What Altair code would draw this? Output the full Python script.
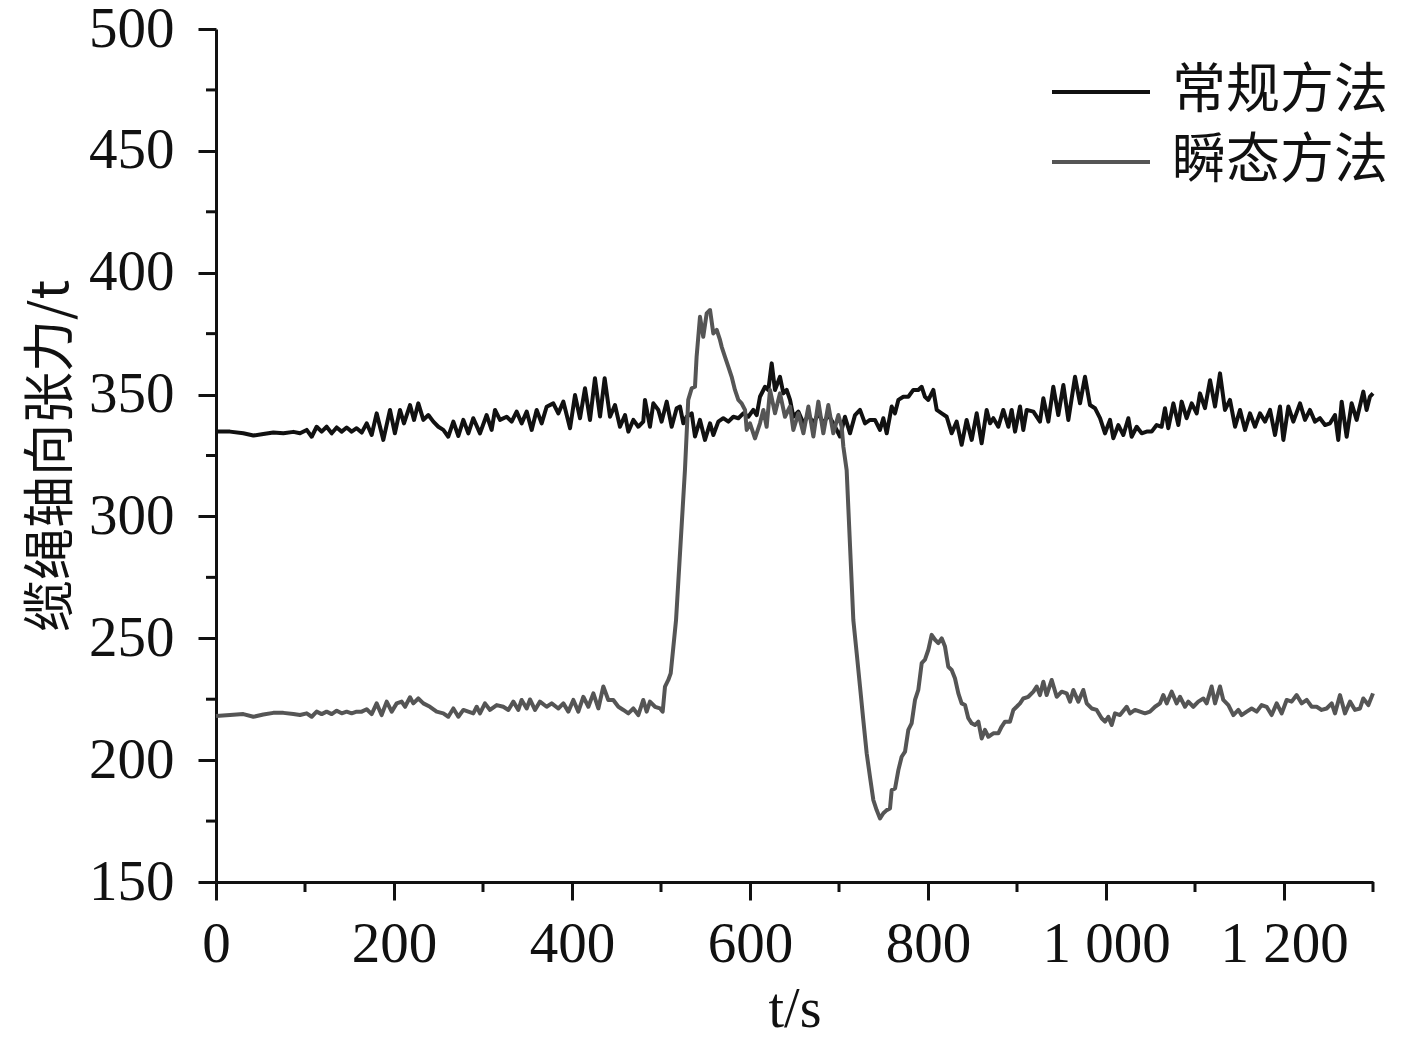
import altair as alt
import pandas as pd

# 常规方法 (black)
BLACK_T = [0, 15.7, 30.7, 42, 53.2, 64.4, 75.7, 87, 94.4, 101.9, 107.5, 113.1, 118.7, 124.3, 130, 135.6, 141.2, 146.8,
           152.4, 158, 163.7, 169.3, 174.9, 180.5, 188, 195.5, 201, 206.7, 211.2, 218, 222.5, 227.3, 233, 238.6, 244.2,
           249.8, 255.4, 261, 266.7, 272.3, 277.9, 283.5, 289.1, 296.6, 304.1, 309.7, 313.5, 319.1, 326.6, 332.2, 337.8,
           343.4, 349.1, 354.7, 360.3, 365.9, 371.5, 379, 384.6, 390.3, 397.8, 403.4, 409, 414.6, 420.2, 425.8, 431.5,
           436.7, 442.7, 448.3, 453.9, 459.6, 463.3, 468.9, 474.5, 480.1, 482, 487.6, 491.4, 497, 500.7, 506.4, 512,
           517.6, 521.3, 525.1, 528.8, 534.5, 538.2, 543.8, 549.4, 555.1, 558.8, 564.4, 570, 575.7, 581.3, 586.9, 592.5,
           598.1, 603.7, 607.5, 611.2, 616.9, 620.6, 624.4, 628.1, 633.7, 637.5, 641.2, 645, 648.7, 654.3, 660, 665.6,
           671.2, 676.8, 682.4, 688, 693.6, 701.1, 706.7, 712.4, 718, 723.6, 729.2, 734.8, 740.4, 746, 749.8, 753.6,
           759.2, 762.9, 766.7, 772.3, 777.9, 783.5, 789.1, 792.9, 796.6, 800.4, 806, 809.8, 815.4, 821, 826.6, 832.2,
           837.8, 843.4, 849.1, 854.7, 860.3, 865.9, 869.7, 873.4, 879, 884.6, 890.3, 894, 897.8, 903.4, 907.1, 910.9,
           918.4, 925.8, 929.6, 935.2, 940.8, 946.4, 952.1, 957.7, 965.2, 970.8, 976.4, 982, 987.6, 993.3, 998.9,
           1004.5, 1008.2, 1013.9, 1019.5, 1025.1, 1028.8, 1034.5, 1040.1, 1045.7, 1051.3, 1056.9, 1062.5, 1066.3,
           1070, 1075.7, 1081.3, 1085, 1090.6, 1096.3, 1101.9, 1105.6, 1111.2, 1116.9, 1122.5, 1128.1, 1133.7, 1139.3,
           1145, 1150.6, 1156.2, 1161.8, 1167.4, 1173, 1178.7, 1184.3, 1189.9, 1195.5, 1199.3, 1204.9, 1210.5, 1218,
           1223.6, 1229.2, 1234.8, 1240.4, 1246.1, 1251.7, 1257.3, 1261, 1264.8, 1270.4, 1276, 1281.6, 1289.1, 1292.8,
           1296.6, 1300]
BLACK_V = [334.8, 334.8, 334.1, 333.2, 333.8, 334.4, 334.1, 334.7, 334.1, 335.5, 332.7, 336.8, 334.8, 336.8, 334.1,
           336.5, 334.8, 336.5, 334.8, 336.2, 334.4, 338.2, 333.4, 342.3, 331.4, 343.7, 334.1, 343.7, 338.2, 345.7,
           339.6, 346.4, 339.6, 341.6, 338.9, 336.8, 335.5, 332.7, 338.9, 333.0, 339.6, 334.1, 340.3, 334.1, 341.6,
           335.5, 343.7, 339.6, 340.9, 338.9, 343.0, 338.2, 343.0, 335.5, 343.7, 338.2, 345.0, 346.4, 342.3, 347.1,
           336.2, 349.8, 340.3, 352.6, 339.6, 356.7, 341.0,
           356.7, 340.9, 345.7, 336.8, 341.6, 334.8, 339.6, 336.8, 338.9, 347.8, 336.8, 346.4, 343.7, 338.9, 347.1,
           336.8, 344.4, 345.1, 338.2, 340.9, 342.3, 332.8, 339.6, 331.4, 338.2, 333.4, 338.9, 340.3, 338.9, 340.9,
           340.3, 342.3, 340.9, 343.7, 341.6, 349.1, 353.2, 351.9, 362.8, 351.9, 357.3, 350.5, 351.9, 347.8, 340.9,
           343.0, 338.2, 341.6, 338.2, 342.3, 338.2, 341.6, 338.2, 332.8, 340.9, 334.1, 341.6, 343.7, 338.2, 339.6,
           339.6, 335.5, 340.3, 334.1, 345.1, 342.3, 347.8, 349.1, 349.1, 351.9, 351.9, 353.2, 349.1, 347.8, 351.9,
           343.7, 342.3, 340.9, 334.1, 338.9, 329.4, 339.6, 331.4, 342.3, 330.0, 343.7,
           338.2, 340.3, 336.8, 343.7, 336.8, 343.7, 334.8, 345.1, 335.5, 343.7, 343.0, 338.9, 348.5, 338.9, 353.2,
           341.6, 353.9, 339.6, 357.3, 346.4, 357.3, 345.7, 344.4, 340.3, 334.1, 339.6, 332.1, 337.5, 333.4, 340.3,
           332.7, 336.8, 334.1, 334.8, 334.8, 337.5, 336.8, 344.4, 336.2, 346.4, 337.5, 347.1, 340.3, 346.4, 342.3,
           350.5, 344.4, 355.9, 345.1, 358.7, 343.7, 347.8, 336.8, 343.7, 335.5, 342.3, 336.8, 342.3, 338.9, 343.7,
           333.4, 345.1, 331.4, 345.1, 338.9, 346.4, 339.6, 343.7, 338.9, 340.3, 337.5, 338.2, 341.6, 331.4, 347.1,
           332.7, 346.4, 339.6, 351.2, 343.7, 349.2, 350.5]

# 瞬态方法 (grey)
GREY_T = [0, 15.7, 30.7, 42, 53.2, 64.4, 75.7, 86.9, 94.4, 101.9, 107.5, 113.1, 118.7, 124.3, 130, 135.6, 141.2,
          146.8, 152.4, 158, 163.7, 169.3, 174.9, 180.5, 186.1, 191.8, 197.4, 203, 208.6, 212.4, 218, 221.7, 227.3,
          233, 240.4, 247.9, 255.4, 261, 266.7, 272.3, 277.9, 283.5, 289.1, 292.9, 296.6, 302.2, 307.9, 315.4, 322.8,
          328.5, 334.1, 339.7, 343.4, 349.1, 352.8, 358.4, 364, 371.5, 377.2, 384.6, 390.3, 395.9, 401.5, 407.1,
          412.7, 418.4, 424, 429.6, 435.2, 440.8, 446.4, 452.1, 457.7, 463.3, 468.9, 474.5, 480.1, 483.9, 487.6,
          493.3, 498.9, 501.9, 504.5, 508.2, 510.9, 513.9, 516.9, 526.9, 530.6, 534.5, 538.2, 540, 543.8, 547.5,
          551.3, 555.1, 558.8, 562.6, 566.3, 568.2, 571.9, 575.7, 579.4, 583.1, 586.9, 590.6, 594.4, 596.3, 600,
          605.6, 611.2, 615, 618.7, 622.5, 628.1, 633.7, 639.3, 645, 648.7, 654.3, 660, 665.6, 671.2, 676.8, 682.4,
          688, 693.6, 699.3, 703, 704.9, 708.6, 716.1, 719.9, 723.6, 727.3, 731.1, 734.8, 738.6, 742.3, 746.1, 749.8,
          753.6, 757.3, 759.2, 763, 766.7, 770.4, 774.2, 777.9, 781.6, 785.4, 789.1, 792.9, 796.6, 800.4, 804.1,
          807.9, 811.6, 815.4, 819.1, 822.8, 826.6, 830.3, 834.1, 837.8, 841.6, 845.3, 849.1, 852.8, 856.6, 860.3,
          864, 867.8, 873.4, 879, 882.8, 886.5, 892.1, 895.9, 899.6, 903.4, 907.1, 912.7, 918.4, 922.1, 925.8, 929.6,
          933.3, 939, 944.6, 950.2, 955.8, 959.6, 963.3, 968.9, 974.5, 978.3, 983.9, 989.5, 995.1, 998.9, 1002.6,
          1006.4, 1010.1, 1015.7, 1023.2, 1027, 1032.6, 1038.2, 1043.8, 1049.4, 1055.1, 1060.7, 1064.4, 1068.2,
          1073.8, 1079.4, 1083.1, 1088.8, 1092.5, 1098.1, 1103.7, 1109.4, 1113.1, 1118.7, 1122.5, 1128.1, 1131.8,
          1137.5, 1143.1, 1148.7, 1152.4, 1158.1, 1163.7, 1169.3, 1174.9, 1180.5, 1186.1, 1191.8, 1197.4, 1203,
          1208.6, 1214.2, 1219.9, 1225.5, 1231.1, 1236.7, 1242.3, 1247.9, 1253.6, 1257.3, 1262.9, 1268.5, 1274.2,
          1279.8, 1285.4, 1289.1, 1294.8, 1300]
GREY_V = [218.1, 218.5, 218.9, 217.8, 218.7, 219.4, 219.4, 218.9, 218.5, 219.2, 217.8, 219.9, 218.9, 219.9, 218.9,
          220.3, 219.2, 219.9, 219.2, 219.9, 219.9, 220.9, 218.9, 223.3, 218.5, 224.0, 219.9, 223.3, 224.0, 221.9,
          225.8, 223.3, 225.3, 223.3, 221.9, 219.9, 219.2, 217.8, 221.2, 217.8, 220.6, 219.9, 219.2, 221.9, 219.2,
          223.3, 220.6, 222.6, 221.9, 220.6, 224.0, 220.6, 224.7, 221.2, 224.9, 220.6, 224.0, 221.9, 223.3, 221.2,
          223.3, 219.9, 224.7, 219.9, 226.0, 221.9, 227.4, 221.2, 230.2, 224.7, 224.7, 221.9, 220.6, 219.2, 221.2,
          218.5, 224.7, 219.9, 224.0, 221.9, 221.2, 219.9, 230.2, 232.9, 235.6, 246.5, 257.5, 319.0, 347.8, 352.6,
          353.2, 365.5, 381.9, 373.7, 383.3, 384.7, 375.1, 376.5, 372.4, 369.6, 365.5, 361.4, 357.3, 351.9, 347.8,
          346.4, 343.7, 335.5, 338.2, 332.0, 338.2, 343.7, 336.8, 351.9, 342.3, 350.5, 340.9, 345.1, 335.5, 342.3,
          334.1, 345.1, 332.8, 347.1, 334.1, 345.7, 334.1, 341.6, 336.8, 328.6, 319.0, 257.5, 243.8, 230.2, 216.5,
          202.8, 193.2, 183.6, 179.5, 176.1, 178.2, 179.5, 180.2, 187.7, 188.4, 195.9, 201.4, 203.5, 212.4, 215.1,
          224.7, 228.8, 239.8, 241.2, 245.3, 251.4, 249.4, 248.0, 250.0, 246.6, 238.3, 237.0, 233.6, 227.4, 223.3,
          222.6, 217.2, 215.1, 214.4, 215.8, 208.9, 212.4, 209.6, 211.0, 211.0, 213.8, 215.8, 215.8, 220.6, 221.9,
          223.3, 225.3, 226.0, 228.1, 230.2, 226.7, 232.2, 226.7, 232.9, 226.0, 228.1, 227.4, 224.0, 228.8, 224.0,
          228.8, 223.3, 221.2, 220.6, 217.2, 215.8, 217.8, 214.4, 219.2, 218.5, 221.9, 219.2, 220.6, 219.9, 219.2,
          219.9, 221.9, 223.3, 226.7, 223.3, 228.1, 223.3, 226.0, 221.9, 224.0, 221.9, 224.0, 225.3, 223.3, 230.2,
          223.3, 230.2, 224.7, 222.6, 218.5, 220.6, 218.5, 219.9, 221.2, 219.9, 222.6, 221.9, 218.5, 223.3, 219.2,
          224.7, 224.0, 226.7, 223.3, 224.7, 221.9, 221.9, 220.6, 221.2, 223.3, 219.2, 226.7, 219.2, 224.0, 220.6,
          221.2, 225.3, 222.6, 227.4]

SERIES = ["常规方法", "瞬态方法"]
COLORS = ["#111111", "#555555"]
X_MAJOR = [0, 200, 400, 600, 800, 1000, 1200]
X_MINOR = [100, 300, 500, 700, 900, 1100, 1300]
Y_MAJOR = [150, 200, 250, 300, 350, 400, 450, 500]
Y_MINOR = [175, 225, 275, 325, 375, 425, 475]

black = pd.DataFrame({"t": BLACK_T, "v": BLACK_V, "series": SERIES[0]})
grey = pd.DataFrame({"t": GREY_T, "v": GREY_V, "series": SERIES[1]})

xscale = alt.Scale(domain=[0, 1300], nice=False, zero=False)
yscale = alt.Scale(domain=[150, 500], nice=False, zero=False)
INK = "#111111"

x_axis = alt.Axis(values=X_MAJOR, title="t/s", titleFont="Liberation Serif", titleFontSize=56,
                  titleFontWeight="normal", titleColor=INK, titlePadding=10,
                  labelFont="Liberation Serif", labelFontSize=57, labelColor=INK, labelPadding=16,
                  labelFlush=False, labelOverlap=False,
                  labelExpr="replace(format(datum.value, ','), ',', ' ')",
                  tickSize=18, tickWidth=3, tickColor=INK, domainWidth=3, domainColor=INK, grid=False)
y_axis = alt.Axis(values=Y_MAJOR, title="缆绳轴向张力/t", titleFont="Noto Sans CJK SC", titleFontSize=52,
                  titleFontWeight="normal", titleColor=INK, titlePadding=10,
                  labelFont="Liberation Serif", labelFontSize=57, labelColor=INK, labelPadding=24,
                  labelOverlap=False, tickSize=18, tickWidth=3, tickColor=INK, domainWidth=3,
                  domainColor=INK, grid=False)

color = alt.Color("series:N", scale=alt.Scale(domain=SERIES, range=COLORS),
                  legend=alt.Legend(title=None, orient="none", legendX=834, legendY=33,
                                    symbolType="stroke", symbolSize=9604, symbolStrokeWidth=4,
                                    labelFont="Noto Sans CJK SC", labelFontSize=54, labelColor=INK,
                                    labelLimit=0, labelOffset=20, clipHeight=60, rowPadding=10,
                                    padding=0))

line_black = alt.Chart(black).mark_line(strokeWidth=4, strokeJoin="round").encode(
    x=alt.X("t:Q", scale=xscale, axis=x_axis),
    y=alt.Y("v:Q", scale=yscale, axis=y_axis),
    color=color,
)
line_grey = alt.Chart(grey).mark_line(strokeWidth=4, strokeJoin="round").encode(
    x=alt.X("t:Q", scale=xscale, axis=x_axis),
    y=alt.Y("v:Q", scale=yscale, axis=y_axis),
    color=color,
)

y_minor = alt.Chart(pd.DataFrame({"v": Y_MINOR})).mark_rule(color=INK, strokeWidth=3).encode(
    y=alt.Y("v:Q", scale=yscale, axis=y_axis),
    x=alt.value(-10), x2=alt.value(0),
)
x_minor = alt.Chart(pd.DataFrame({"t": X_MINOR})).mark_rule(color=INK, strokeWidth=3).encode(
    x=alt.X("t:Q", scale=xscale, axis=x_axis),
    y=alt.value(853), y2=alt.value(863),
)

chart = alt.layer(line_black, line_grey, y_minor, x_minor).properties(
    width=1157, height=853,
    padding={"left": 208, "top": 21, "right": 30, "bottom": 160},
    autosize=alt.AutoSizeParams(type="none"),
).configure_view(stroke=None)

chart.save("out.html", embed_options={"renderer": "svg", "actions": False})
